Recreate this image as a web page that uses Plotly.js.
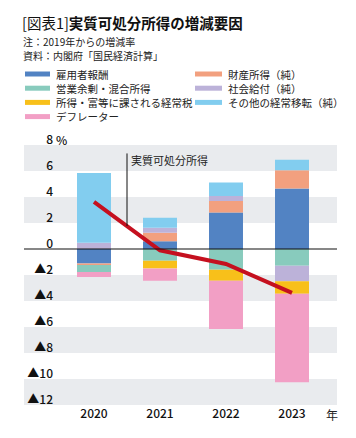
<!DOCTYPE html>
<html><head><meta charset="utf-8">
<script src="https://cdn.plot.ly/plotly-3.0.1.min.js"></script>
<style>html,body{margin:0;padding:0;background:#fff}</style>
</head><body><div id="chart" style="width:356px;height:438px"></div>
<script>
// ---- data ----
const years = ['2020', '2021', '2022', '2023'];
const seriesNames = ['雇用者報酬', '財産所得（純）', '営業余剰・混合所得', '社会給付（純）', '所得・富等に課される経常税', 'その他の経常移転（純）', 'デフレーター'];
const compensation = [-1.12, 0.60, 2.80, 4.65];
const propertyIncome = [-0.12, 0.65, 0.90, 1.40];
const operatingSurplus = [-0.52, -0.90, -1.60, -1.28];
const socialBenefits = [0.48, 0.38, 0.38, -1.20];
const incomeTaxes = [0.00, -0.60, -0.85, -0.97];
const otherTransfers = [5.37, 0.77, 1.03, 0.82];
const deflator = [-0.40, -0.95, -3.70, -6.80];
const realDisposable = [3.63, -0.10, -1.15, -3.37];
const lineName = '実質可処分所得';
const yTickVals = [-12, -10, -8, -6, -4, -2, 0, 2, 4, 6, 8];
const yTickText = ['▲12', '▲10', '▲8', '▲6', '▲4', '▲2', '0', '2', '4', '6', '8'];

// ---- styling ----
const seriesValues = [compensation, propertyIncome, operatingSurplus, socialBenefits, incomeTaxes, otherTransfers, deflator];
const colors = ['#5283c3', '#f2a07f', '#88cbbd', '#bcb2d9', '#f8c01a', '#82cdef', '#f29fc5'];
const FONT = '"Noto Sans CJK JP", "Noto Sans", sans-serif';
const W = 356, H = 438, M = {l: 56, r: 19, t: 145, b: 33};
const pw = W - M.l - M.r, ph = H - M.t - M.b;
const px2x = p => (p - M.l) / pw;
const px2y = p => (H - M.b - p) / ph;

const traces = seriesNames.map((n, i) => ({
  type: 'bar', name: n, x: years, y: seriesValues[i],
  marker: {color: colors[i], line: {width: 0}}, showlegend: false, hoverinfo: 'skip'
}));
traces.push({
  type: 'scatter', mode: 'lines', name: lineName, x: years, y: realDisposable,
  line: {color: '#c5101f', width: 4}, showlegend: false, hoverinfo: 'skip'
});

const shapes = [];
const bands = [[6, 8], [2, 4], [-4, -2], [-8, -6], [-12, -10]];
bands.forEach(b => shapes.push({type: 'rect', xref: 'paper', yref: 'y', x0: px2x(24), x1: 1, y0: b[0], y1: b[1],
  fillcolor: '#e9ebee', line: {width: 0}, layer: 'below'}));
shapes.push({type: 'line', xref: 'paper', yref: 'y', x0: px2x(24), x1: 1, y0: 0, y1: 0,
  line: {color: '#111', width: 1.2}, layer: 'above'});
// callout line for the real disposable income line
const calloutTop = 7.35;
shapes.push({type: 'line', xref: 'x', yref: 'y', x0: 0.5, x1: 0.5,
  y0: (realDisposable[0] + realDisposable[1]) / 2, y1: calloutTop, line: {color: '#111', width: 1}});

const annotations = [];
const txt = (x, y, text, size, extra) => Object.assign({xref: 'paper', yref: 'paper', x: x, y: y,
  xanchor: 'left', yanchor: 'middle', text: text, showarrow: false, borderpad: 0, align: 'left',
  font: {family: FONT, size: size, color: '#222'}}, extra || {});
// title
annotations.push(txt(px2x(21), px2y(23), '[図表1]<b>実質可処分所得の増減要因</b>', 14.5, {font: {family: FONT, size: 14.5, color: '#111'}}));
// notes
annotations.push(txt(px2x(22), px2y(41), '注：2019年からの増減率', 10));
annotations.push(txt(px2x(22), px2y(55.5), '資料：内閣府「国民経済計算」', 10));
// callout text
annotations.push({xref: 'x', yref: 'y', x: 0.5, y: 6.85, xshift: 3, xanchor: 'left', yanchor: 'middle', borderpad: 0,
  text: lineName, showarrow: false, font: {family: FONT, size: 11, color: '#222'}});
// legend (two columns)
const legendCols = [[0, 2, 4, 6], [1, 3, 5]];
const colSwatch = [[25, 50], [195, 222]];
const colText = [55, 227];
legendCols.forEach((col, c) => col.forEach((si, r) => {
  const yc = 74 + r * 14.2;
  shapes.push({type: 'rect', xref: 'paper', yref: 'paper', x0: px2x(colSwatch[c][0]), x1: px2x(colSwatch[c][1]),
    y0: px2y(yc + 2.5), y1: px2y(yc - 2.5), fillcolor: colors[si], line: {width: 0}});
  annotations.push(txt(px2x(colText[c]), px2y(yc), seriesNames[si], 10.5));
}));
// unit labels
annotations.push(txt(px2x(55), px2y(139), '%', 12, {font: {family: FONT, size: 12, color: '#111', weight: 500}}));
annotations.push(txt(px2x(325), px2y(414), '年', 12));

const layout = {
  width: W, height: H, margin: {l: M.l, r: M.r, t: M.t, b: M.b, autoexpand: false},
  paper_bgcolor: '#fff', plot_bgcolor: '#fff',
  barmode: 'relative', bargap: 0.485, showlegend: false, hovermode: false,
  xaxis: {type: 'category', range: [-38 / 66, 3 + 45 / 66], ticks: '', showline: false, showgrid: false, zeroline: false,
    tickfont: {family: FONT, size: 12, color: '#111', weight: 500}, fixedrange: true},
  yaxis: {range: [-12, 8], tickvals: yTickVals, ticktext: yTickText, ticklabelposition: 'outside top', ticks: '',
    showline: false, showgrid: false, zeroline: false, ticklabelstandoff: 2, ticklabelshift: 3,
    tickfont: {family: FONT, size: 12, color: '#111', weight: 500}, fixedrange: true},
  shapes: shapes, annotations: annotations
};
Plotly.newPlot('chart', traces, layout, {displayModeBar: false, staticPlot: true});
</script></body></html>
